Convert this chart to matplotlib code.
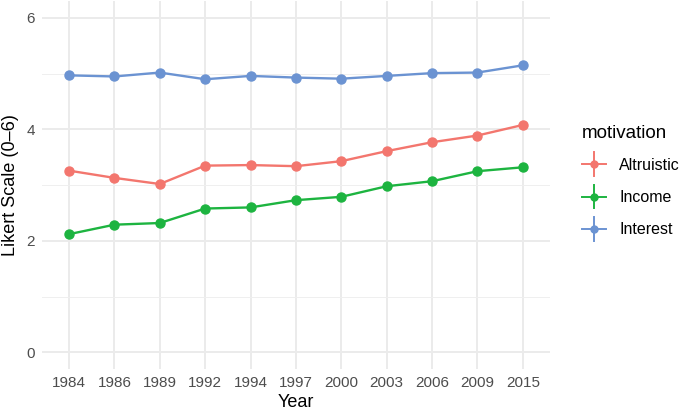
import matplotlib.pyplot as plt
from matplotlib.lines import Line2D
from matplotlib.legend_handler import HandlerBase

plt.rcParams['font.family'] = ['Liberation Sans', 'DejaVu Sans']

# Data
years = ["1984", "1986", "1989", "1992", "1994", "1997", "2000", "2003", "2006", "2009", "2015"]
altruistic = [3.26, 3.13, 3.02, 3.35, 3.36, 3.34, 3.43, 3.61, 3.77, 3.89, 4.08]
income = [2.12, 2.29, 2.32, 2.58, 2.60, 2.73, 2.79, 2.98, 3.07, 3.25, 3.32]
interest = [4.97, 4.95, 5.02, 4.90, 4.96, 4.93, 4.91, 4.96, 5.01, 5.02, 5.15]

series = [("Altruistic", altruistic, "#F3766E"),
          ("Income", income, "#1DB440"),
          ("Interest", interest, "#6B93D2")]


# legend key like ggplot pointrange: cross with a dot
class CrossHandler(HandlerBase):
    def create_artists(self, legend, orig_handle, xdescent, ydescent,
                       width, height, fontsize, trans):
        c = orig_handle.get_color()
        cx = width / 2 - xdescent
        cy = height / 2 - ydescent
        h = Line2D([-xdescent, width - xdescent], [cy, cy], color=c, lw=1.4)
        v = Line2D([cx, cx], [cy - 8.5, cy + 8.5], color=c, lw=1.4)
        p = Line2D([cx], [cy], marker="o", ms=5, color=c, lw=0)
        for a in (h, v, p):
            a.set_transform(trans)
        return [h, v, p]


fig = plt.figure(figsize=(6.85, 4.13), dpi=100)
ax = fig.add_axes([0.061, 0.1065, 0.742, 0.8905])

x = list(range(len(years)))
handles = []
for name, vals, col in series:
    ln, = ax.plot(x, vals, color=col, lw=1.7, marker="o", ms=6.5, label=name,
                  zorder=3)
    handles.append(ln)

ax.set_xlim(-0.6, len(years) - 1 + 0.6)
ax.set_ylim(-0.3, 6.3)
ax.set_xticks(x)
ax.set_xticklabels(years)
ax.set_yticks([0, 2, 4, 6])
ax.set_yticks([1, 3, 5], minor=True)

ax.grid(which="major", color="#EBEBEB", lw=1.4)
ax.grid(which="minor", axis="y", color="#EFEFEF", lw=0.7)
ax.set_axisbelow(True)
for s in ax.spines.values():
    s.set_visible(False)
ax.tick_params(which="both", length=0, labelsize=11, colors="#4D4D4D", pad=5)

ax.set_xlabel("Year", fontsize=13, color="black", labelpad=3)
ax.set_ylabel("Likert Scale (0\u20136)", fontsize=13, color="black", labelpad=5)

leg = fig.legend(handles=handles, labels=[s[0] for s in series],
                 handler_map={Line2D: CrossHandler()},
                 title="motivation", loc="upper left",
                 bbox_to_anchor=(0.849, 0.698), frameon=False,
                 fontsize=11.5, title_fontsize=13.5,
                 handlelength=1.56, handleheight=1.5, labelspacing=0.8,
                 handletextpad=0.8, borderpad=0, borderaxespad=0)
leg._legend_box.align = "left"

fig.savefig("out.png", dpi=100)
